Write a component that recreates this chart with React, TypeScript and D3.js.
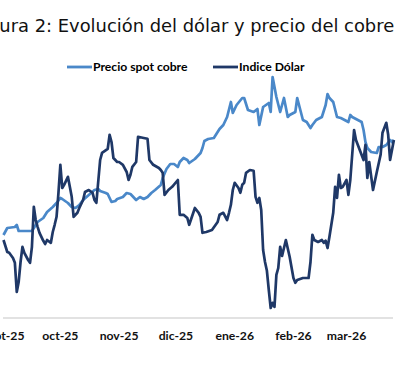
import React from "react";
import * as d3 from "d3";

// Precio spot cobre (US$/t)
const copperDates = [
  "2025-09-01","2025-09-03","2025-09-07","2025-09-08","2025-09-09","2025-09-16","2025-09-17","2025-09-19","2025-09-22","2025-09-24",
  "2025-09-27","2025-09-29","2025-10-01","2025-10-02","2025-10-05","2025-10-07","2025-10-09","2025-10-11","2025-10-13","2025-10-16",
  "2025-10-19","2025-10-21","2025-10-22","2025-10-25","2025-10-26","2025-10-28","2025-10-30","2025-10-31","2025-11-03","2025-11-05",
  "2025-11-07","2025-11-08","2025-11-10","2025-11-12","2025-11-14","2025-11-16","2025-11-18","2025-11-20","2025-11-23","2025-11-24",
  "2025-11-26","2025-11-28","2025-11-30","2025-12-02","2025-12-03","2025-12-05","2025-12-07","2025-12-08","2025-12-11","2025-12-14",
  "2025-12-15","2025-12-16","2025-12-18","2025-12-21","2025-12-23","2025-12-24","2025-12-26","2025-12-28","2025-12-30","2025-12-31",
  "2026-01-02","2026-01-05","2026-01-06","2026-01-08","2026-01-11","2026-01-13","2026-01-14","2026-01-16","2026-01-19","2026-01-20",
  "2026-01-21","2026-01-23","2026-01-25","2026-01-27","2026-01-29","2026-01-30","2026-02-02","2026-02-03","2026-02-06","2026-02-08",
  "2026-02-10","2026-02-11","2026-02-13","2026-02-16","2026-02-18","2026-02-19","2026-02-20","2026-02-22","2026-02-24","2026-02-26",
  "2026-02-28","2026-03-02","2026-03-03","2026-03-04","2026-03-07","2026-03-09","2026-03-10","2026-03-11","2026-03-12","2026-03-14",
  "2026-03-17","2026-03-18","2026-03-20","2026-03-22","2026-03-24","2026-03-25","2026-03-26",
];
const copperValues = [
  9660,9800,9820,9860,9740,9740,9800,9920,10000,10120,
  10220,10300,10400,10380,10300,10220,10200,10260,10360,10460,
  10560,10580,10540,10500,10480,10320,10340,10380,10420,10500,
  10480,10440,10360,10420,10380,10420,10500,10560,10660,10800,
  10980,11080,11080,11020,11120,11200,11160,11100,11180,11300,
  11400,11540,11580,11600,11720,11780,11860,12020,12320,12100,
  12260,12400,12400,12160,12120,12180,11860,12220,12300,12120,
  12820,12420,12120,12400,12020,12060,12120,12400,11960,11920,
  11800,11860,11960,12020,12260,12480,12400,12320,12020,12000,
  11960,11920,12060,12020,11960,11920,11760,11520,11400,11320,
  11300,11420,11420,11460,11560,11520,11560,
];

// Indice Dólar (DXY)
const dollarDates = [
  "2025-09-01","2025-09-03","2025-09-04","2025-09-06","2025-09-07","2025-09-08","2025-09-09","2025-09-10","2025-09-11","2025-09-12",
  "2025-09-14","2025-09-15","2025-09-16","2025-09-17","2025-09-18","2025-09-19","2025-09-20","2025-09-22","2025-09-23","2025-09-24",
  "2025-09-26","2025-09-27","2025-09-28","2025-09-29","2025-09-30","2025-10-01","2025-10-02","2025-10-03","2025-10-05","2025-10-06",
  "2025-10-07","2025-10-08","2025-10-10","2025-10-11","2025-10-13","2025-10-14","2025-10-16","2025-10-18","2025-10-19","2025-10-20",
  "2025-10-22","2025-10-23","2025-10-26","2025-10-27","2025-10-28","2025-10-29","2025-10-31","2025-11-01","2025-11-03","2025-11-05",
  "2025-11-06","2025-11-07","2025-11-08","2025-11-10","2025-11-11","2025-11-14","2025-11-16","2025-11-17","2025-11-19","2025-11-22",
  "2025-11-23","2025-11-24","2025-11-25","2025-11-27","2025-11-29","2025-12-02","2025-12-03","2025-12-05","2025-12-07","2025-12-08",
  "2025-12-11","2025-12-13","2025-12-14","2025-12-15","2025-12-17","2025-12-20","2025-12-23","2025-12-24","2025-12-26","2025-12-28",
  "2025-12-29","2025-12-30","2025-12-31","2026-01-01","2026-01-03","2026-01-04","2026-01-05","2026-01-06","2026-01-07","2026-01-09",
  "2026-01-11","2026-01-12","2026-01-13","2026-01-14","2026-01-15","2026-01-16","2026-01-17","2026-01-18","2026-01-19","2026-01-20",
  "2026-01-21","2026-01-22","2026-01-23","2026-01-24","2026-01-25","2026-01-26","2026-01-28","2026-01-30","2026-02-01","2026-02-02",
  "2026-02-03","2026-02-06","2026-02-09","2026-02-10","2026-02-11","2026-02-12","2026-02-14","2026-02-16","2026-02-17","2026-02-18",
  "2026-02-19","2026-02-20","2026-02-22","2026-02-23","2026-02-24","2026-02-25","2026-02-26","2026-02-27","2026-03-01","2026-03-02",
  "2026-03-03","2026-03-05","2026-03-06","2026-03-08","2026-03-10","2026-03-11","2026-03-12","2026-03-13","2026-03-15","2026-03-17",
  "2026-03-19","2026-03-20","2026-03-22","2026-03-23","2026-03-24","2026-03-26",
];
const dollarValues = [
  96.95,96.65,96.63,96.50,96.38,95.65,95.90,96.40,96.78,96.63,
  96.45,96.38,96.78,97.78,97.45,97.28,97.13,96.93,96.85,96.95,
  96.88,97.15,97.33,97.53,98.13,98.83,98.25,98.33,98.53,98.28,
  98.03,97.53,97.63,97.75,97.95,98.15,98.20,98.13,97.95,97.88,
  98.95,99.13,99.23,99.58,99.40,99.00,98.90,98.90,98.83,98.65,
  98.45,98.58,98.78,98.90,99.53,99.50,99.48,98.95,98.83,98.75,
  98.70,98.63,98.08,98.20,98.28,98.45,97.58,97.58,97.50,97.33,
  97.75,97.63,97.53,97.13,97.15,97.20,97.40,97.58,97.63,97.45,
  97.63,97.83,98.20,98.38,98.25,98.13,98.33,98.38,98.63,98.70,
  98.68,98.03,97.88,98.00,97.70,96.70,96.40,96.18,95.70,95.25,
  95.38,95.28,96.08,96.25,96.78,96.55,96.95,96.53,96.00,95.88,
  95.95,96.00,96.00,96.40,97.08,96.95,96.90,96.95,96.88,96.93,
  96.75,97.03,97.63,98.28,98.00,98.58,98.25,98.28,98.45,98.08,
  98.45,99.70,99.45,99.20,98.95,99.33,98.50,98.90,98.20,98.65,
  99.08,99.63,99.88,99.58,98.95,99.45,
];

const monthTicks = ["2025-09-01","2025-10-01","2025-11-01","2025-12-01","2026-01-01","2026-02-01","2026-03-01"];
const monthLabels = ["sept-25","oct-25","nov-25","dic-25","ene-26","feb-26","mar-26"];

const seriesNames = ["Precio spot cobre", "Indice Dólar"];
const seriesColors = ["#4a88c9", "#1f3867"];

const parse = d3.utcParse("%Y-%m-%d");

export default function App() {
  const W = 400, H = 367;
  const x = d3.scaleUtc()
    .domain([parse("2025-09-01")!, parse("2026-03-31")!])
    .range([3.5, 3.5 + 211 * 1.895]);
  const yCopper = d3.scaleLinear().domain([8000, 12800]).range([318, 78]);
  const yDollar = d3.scaleLinear().domain([95, 101]).range([318, 78]);

  const copper = copperDates.map((d, i) => ({ date: parse(d)!, value: copperValues[i] }));
  const dollar = dollarDates.map((d, i) => ({ date: parse(d)!, value: dollarValues[i] }));

  const lineC = d3.line<{ date: Date; value: number }>()
    .x(d => x(d.date)).y(d => yCopper(d.value));
  const lineD = d3.line<{ date: Date; value: number }>()
    .x(d => x(d.date)).y(d => yDollar(d.value));

  const legendX = [67, 213];

  return (
    <svg width={W} height={H} style={{ position: "absolute", left: 0, top: 0, background: "#fff" }}>
      <text x={-26} y={32} fontFamily="DejaVu Sans" fontSize={17.9} fill="#111">
        Figura 2: Evolución del dólar y precio del cobre
      </text>
      {seriesNames.map((n, i) => (
        <g key={n}>
          <line x1={legendX[i]} x2={legendX[i] + 25} y1={67} y2={67} stroke={seriesColors[i]} strokeWidth={2.8} />
          <text x={legendX[i] + 26} y={71} fontFamily="Lato" fontWeight="bold" fontSize={12.2} fill="#000">{n}</text>
        </g>
      ))}
      <line x1={3} x2={393} y1={318} y2={318} stroke="#d9d9d9" strokeWidth={1.5} />
      {monthTicks.map((t, i) => (
        <text key={t} x={x(parse(t)!)} y={340} textAnchor="middle" fontFamily="Lato" fontWeight="bold" fontSize={12.2} fill="#111">
          {monthLabels[i]}
        </text>
      ))}
      <path d={lineC(copper) || ""} fill="none" stroke={seriesColors[0]} strokeWidth={2.7} strokeLinejoin="round" />
      <path d={lineD(dollar) || ""} fill="none" stroke={seriesColors[1]} strokeWidth={2.7} strokeLinejoin="round" />
    </svg>
  );
}
